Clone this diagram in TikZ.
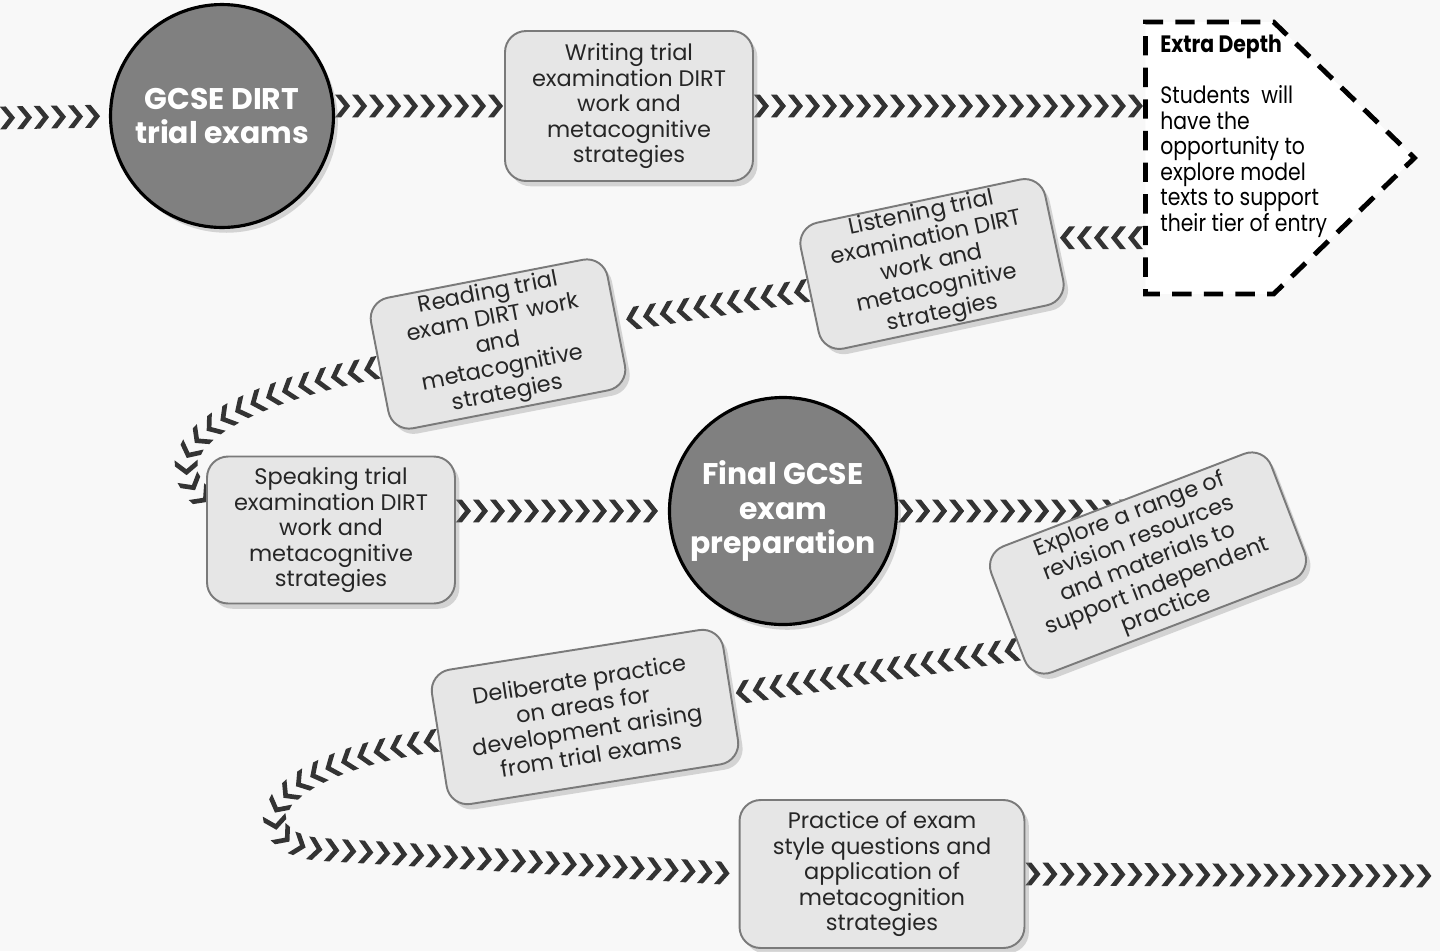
\documentclass[tikz,border=0pt]{standalone}
\usepackage{fontspec}
\setmainfont{Poppins}
\newfontfamily\narrowfont[FakeStretch=0.86]{Poppins}
\usetikzlibrary{calc,shapes.symbols,shadows,decorations.markings}
\definecolor{road}{HTML}{333333}
\definecolor{stagefill}{HTML}{E6E6E6}
\definecolor{stageline}{HTML}{7A7A7A}
\definecolor{hubfill}{HTML}{808080}
\definecolor{ink}{HTML}{262626}
\definecolor{paper}{HTML}{F8F8F8}
\pgfdeclarelayer{background}
\pgfsetlayers{background,main}

\begin{document}
\begin{tikzpicture}[x=0.02cm, y=-0.02cm,
  stage/.style={draw=stageline, line width=1.1pt, fill=stagefill, rounded corners=12pt,
    align=center, text=ink, inner sep=1pt, font=\fontsize{12.8pt}{14.5pt}\selectfont,
    drop shadow={shadow xshift=2.5pt, shadow yshift=-3pt, opacity=0.3}},
  hub/.style={circle, draw=black, line width=1.8pt, fill=hubfill, minimum size=4.46cm,
    align=center, text=white, font=\bfseries\fontsize{17pt}{19.8pt}\selectfont,
    drop shadow={shadow xshift=2.5pt, shadow yshift=-3pt, opacity=0.3}},
  chev/.style={postaction={decorate}, decoration={markings,
    mark=between positions 0.15cm and -0.1cm step 0.34cm with
    {\fill[road] (-4.3pt,6.5pt) -- (-0.9pt,6.5pt) -- (4.3pt,0pt) -- (-0.9pt,-6.5pt)
      -- (-4.3pt,-6.5pt) -- (0.9pt,0pt) -- cycle;}}}
]
  \useasboundingbox (0,0) rectangle (1440,951);
  \begin{pgfonlayer}{background}
    \fill[paper] (0,0) rectangle (1440,951);
  \end{pgfonlayer}

  % stops along the road
  \node[hub] (gcse) at (222,116) {GCSE DIRT\\trial exams};
  \node[stage, minimum width=4.96cm, minimum height=3cm] (writing) at (629,106)
    {Writing trial\\examination DIRT\\work and\\metacognitive\\strategies};
  \node[shape=signal, signal to=east, signal pointer angle=88, draw=black, fill=white,
    line width=2.8pt, dash pattern=on 11pt off 7pt, inner sep=0pt, anchor=west,
    minimum width=5.38cm, minimum height=5.44cm] (extra) at (1143,158) {};
  \node[anchor=north west, inner sep=0pt, align=left, text=black,
    font=\narrowfont\fontsize{13.5pt}{14.5pt}\selectfont] (extratext) at (1160,35)
    {\textbf{Extra Depth}\\[14.5pt]Students~~will\\have the\\opportunity to\\explore model\\texts to support\\their tier of entry};
  \node[stage, rotate=12, minimum width=5cm, minimum height=2.56cm] (listen) at (932,264)
    {Listening trial\\examination DIRT\\work and\\metacognitive\\strategies};
  \node[stage, rotate=11, minimum width=4.82cm, minimum height=2.66cm] (reading) at (498,344)
    {Reading trial\\exam DIRT work\\and\\metacognitive\\strategies};
  \node[stage, minimum width=4.96cm, minimum height=2.94cm] (speak) at (331,530)
    {Speaking trial\\examination DIRT\\work and\\metacognitive\\strategies};
  \node[hub] (final) at (783,511) {Final GCSE\\exam\\preparation};
  \node[stage, rotate=21, minimum width=6cm, minimum height=2.7cm] (explore) at (1148,563)
    {Explore a range of\\revision resources\\and materials to\\support independent\\practice};
  \node[stage, rotate=9, minimum width=5.9cm, minimum height=2.72cm] (delib) at (585,717)
    {Deliberate practice\\on areas for\\development arising\\from trial exams};
  \node[stage, minimum width=5.7cm, minimum height=2.96cm] (practice) at (882,874)
    {Practice of exam\\style questions and\\application of\\metacognition\\strategies};

  \coordinate (start) at (0,118);
  \coordinate (finish) at (1440,876);
  \coordinate (speakin) at ($(speak.north west)!0.3!(speak.south west)$);
  \coordinate (explorelow) at ($(explore.west)!0.5!(explore.south west)$);
  \coordinate (bend) at (330,850);

  % chevron road
  \begin{pgfonlayer}{background}
    \path[chev] (start) -- (gcse.west);
    \path[chev] (writing.west -| gcse.east) -- (writing.west);
    \path[chev] (writing.east) -- (writing.east -| extra.west);
    \path[chev] (listen.east -| extra.west) -- (listen.east);
    \path[chev] (listen.west) -- (reading.east);
    \path[chev] (reading.west) .. controls (215,398) and (150,455) .. (speakin);
    \path[chev] (speak.east |- final.west) -- (final.west);
    \path[chev] (final.east) -- (final.east -| explore.center);
    \path[chev] (explorelow) -- (delib.east);
    \path[chev] (delib.west) .. controls (250,765) and (240,848) .. (bend) -- (practice.west);
    \path[chev] (practice.east) -- (finish);
  \end{pgfonlayer}
\end{tikzpicture}
\end{document}
